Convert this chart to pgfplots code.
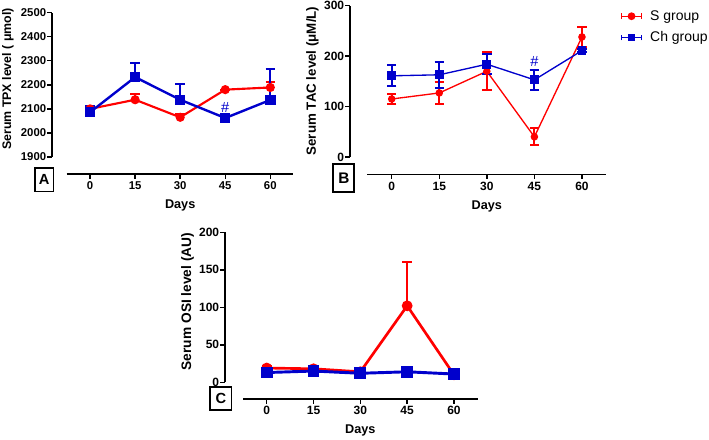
\documentclass[border=0pt]{standalone}
\usepackage{fontspec}
\setmainfont{Liberation Sans}
\usepackage{pgfplots}
\pgfplotsset{compat=1.18}

\definecolor{sred}{RGB}{255,0,0}
\definecolor{chblue}{RGB}{0,0,204}

\pgfplotsset{
  panel/.style={
    anchor=south west, scale only axis, clip=false,
    axis x line*=bottom, axis y line*=left,
    axis line style={-, line width=1.1pt},
    tick style={black, line width=1.1pt},
    tick align=outside, major tick length=3.4pt,
    xtick={0,15,30,45,60},
    scaled ticks=false,
    /pgf/number format/1000 sep={},
    /pgf/number format/assume math mode=true,
    yticklabel style={inner xsep=0.8pt},
    xticklabel style={inner ysep=2pt},
  },
  sser/.style={color=sred, mark=*, mark options={solid, fill=sred}},
  chser/.style={color=chblue, mark=square*, mark options={solid, fill=chblue}},
  legimg/.style={
    legend image code/.code={
      \draw[##1, mark=none] (0pt,0pt) -- (15pt,0pt);
      \draw[##1, mark=none] (0pt,-2.2pt) -- (0pt,2.2pt);
      \draw[##1, mark=none] (15pt,-2.2pt) -- (15pt,2.2pt);
      \draw[##1, only marks, mark size=2.4pt] plot coordinates {(7.5pt,0pt)};
    }
  },
}

\begin{document}
\begin{tikzpicture}
\useasboundingbox (0,0) rectangle (531.75pt,329.25pt);

% ---------- A: TPX ----------
\begin{axis}[panel,
  at={(39pt,198.75pt)}, width=181pt, height=121pt,
  xmin=-12.67, xmax=67.67, ymin=1829.3, ymax=2500,
  ytick={1900,2000,...,2500},
  x axis line style={shorten <=11pt},
  y axis line style={shorten <=12.75pt},
  ticklabel style={font=\bfseries\fontsize{8.5}{9}\selectfont},
  error bars/error bar style={line width=1.4pt},
  error bars/error mark options={rotate=90, mark size=3.6pt, line width=1.4pt},
]
\addplot[sser, line width=1.6pt, mark size=2.6pt,
  error bars/.cd, y dir=plus, y explicit] coordinates {
  (0,2100) +- (0,6)
  (15,2138) +- (0,25)
  (30,2065) +- (0,14)
  (45,2180) +- (0,0)
  (60,2189) +- (0,21)
};
\addplot[chser, line width=1.8pt, mark size=3pt,
  error bars/.cd, y dir=plus, y explicit] coordinates {
  (0,2086) +- (0,25)
  (15,2232) +- (0,58)
  (30,2138) +- (0,65)
  (45,2062) +- (0,0)
  (60,2137) +- (0,130)
};
\node[text=chblue, font=\fontsize{11}{11}\selectfont] at (axis cs:45,2105) {\#};
\node[font=\bfseries\fontsize{9.5}{10}\selectfont] at (axis cs:30,1829.3) [yshift=-23.25pt] {Days};
\end{axis}

% ---------- B: TAC ----------
\begin{axis}[panel,
  at={(262.5pt,198.5pt)}, width=191.8pt, height=126.45pt,
  xmin=-13.15, xmax=67.5, ymin=-34.4, ymax=300,
  ytick={0,100,200,300},
  x axis line style={shorten <=13pt},
  y axis line style={shorten <=13pt},
  ticklabel style={font=\bfseries\fontsize{9}{10}\selectfont},
  error bars/error bar style={line width=1.5pt},
  error bars/error mark options={rotate=90, mark size=3.5pt, line width=1.5pt},
  legimg,
  legend style={at={(1.058,0.99)}, anchor=north west, draw=none, fill=none,
    inner sep=0pt, row sep=3pt,
    /tikz/every odd column/.append style={column sep=4pt},
    font=\fontsize{10.5}{12}\selectfont},
  legend cell align=left,
]
\addplot[sser, line width=1pt, mark size=2.3pt,
  error bars/.cd, y dir=both, y explicit] coordinates {
  (0,115) +- (0,9)
  (15,127) +- (0,21)
  (30,170) +- (0,38)
  (45,40) +- (0,17)
  (60,238) +- (0,20)
};
\addlegendentry{S group}
\addplot[chser, line width=1pt, mark size=2.8pt,
  error bars/.cd, y dir=both, y explicit] coordinates {
  (0,161) +- (0,21)
  (15,163) +- (0,26)
  (30,184) +- (0,20)
  (45,153) +- (0,20)
  (60,211) +- (0,3)
};
\addlegendentry{Ch group}
\node[text=chblue, font=\fontsize{11}{11}\selectfont] at (axis cs:45,190) {\#};
\node[font=\bfseries\fontsize{9.5}{10}\selectfont] at (axis cs:30,-34.4) [yshift=-24.3pt] {Days};
\end{axis}

% ---------- C: OSI ----------
\begin{axis}[panel,
  at={(168.75pt,30pt)}, width=190pt, height=125pt,
  xmin=-13.36, xmax=67.8, ymin=-22.3, ymax=200,
  ytick={0,50,100,150,200},
  x axis line style={shorten <=13.7pt},
  y axis line style={shorten <=12.5pt},
  ticklabel style={font=\bfseries\fontsize{9}{10}\selectfont},
  error bars/error bar style={line width=1.6pt},
  error bars/error mark options={rotate=90, mark size=3.6pt, line width=1.6pt},
]
\addplot[sser, line width=2pt, mark size=3pt,
  error bars/.cd, y dir=plus, y explicit] coordinates {
  (0,19) +- (0,2)
  (15,18) +- (0,2)
  (30,14) +- (0,1)
  (45,102) +- (0,59)
  (60,10) +- (0,1)
};
\addplot[chser, line width=2.2pt, mark size=3.3pt] coordinates {
  (0,13) (15,15) (30,12) (45,14) (60,11)
};
\node[font=\bfseries\fontsize{9.5}{10}\selectfont] at (axis cs:30,-22.3) [yshift=-23.25pt] {Days};
\end{axis}

% ---------- y labels and panel letters ----------
\node[rotate=90, font=\bfseries\fontsize{9.3}{10}\selectfont] at (6pt,270pt) {Serum TPX level ( μmol)};
\node[rotate=90, font=\bfseries\fontsize{10}{11}\selectfont] at (234.4pt,268.5pt) {Serum TAC level (μM/L)};
\node[rotate=90, font=\bfseries\fontsize{10.3}{11}\selectfont] at (140.6pt,103.1pt) {Serum OSI level (AU)};

\node[draw, line width=1.1pt, minimum width=13.7pt, minimum height=17.8pt, inner sep=0pt,
  font=\bfseries\fontsize{11}{11}\selectfont] at (33.15pt,194.4pt) {A};
\node[draw, line width=1.6pt, minimum width=15.75pt, minimum height=20.8pt, inner sep=0pt,
  font=\bfseries\fontsize{11.5}{11}\selectfont] at (257.85pt,195.9pt) {B};
\node[draw, line width=1.3pt, minimum width=16pt, minimum height=17.5pt, inner sep=0pt,
  font=\bfseries\fontsize{11}{11}\selectfont] at (165.6pt,30.5pt) {C};
\end{tikzpicture}
\end{document}
